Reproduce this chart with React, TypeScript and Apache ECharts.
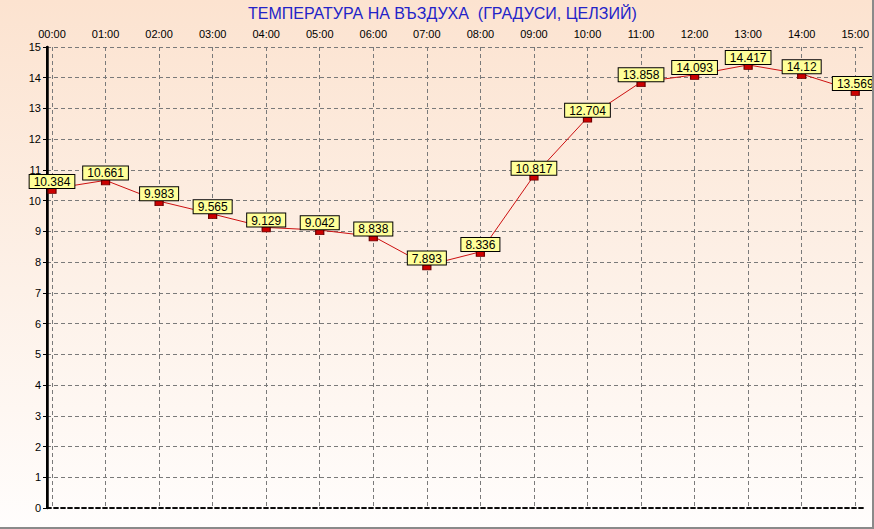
import React, { useEffect, useRef } from "react";
import * as echarts from "echarts";

const hours = ["00:00","01:00","02:00","03:00","04:00","05:00","06:00","07:00","08:00","09:00","10:00","11:00","12:00","13:00","14:00","15:00"];
const temps = [10.384, 10.661, 9.983, 9.565, 9.129, 9.042, 8.838, 7.893, 8.336, 10.817, 12.704, 13.858, 14.093, 14.417, 14.12, 13.569];
const title = "ТЕМПЕРАТУРА НА ВЪЗДУХА  (ГРАДУСИ, ЦЕЛЗИЙ)";

export default function App() {
  const ref = useRef<HTMLDivElement>(null);
  useEffect(() => {
    const chart = echarts.init(ref.current!, null, { renderer: "svg" });
    const font = "'Liberation Sans', Arial, sans-serif";
    const dash = { color: "#7a7a7a", type: [4, 3] as any, width: 1 };
    chart.setOption({
      animation: false,
      textStyle: { fontFamily: font },
      title: {
        text: title,
        left: 245,
        top: 2,
        padding: 3,
        textStyle: { color: "#2323c8", fontSize: 16, fontWeight: "normal", fontFamily: font },
      },
      grid: [
        { left: 47, right: 7, top: 47, bottom: 19, containLabel: false },
        { left: 52, right: 10, top: 47, bottom: 19, containLabel: false },
      ],
      xAxis: [
        {
          gridIndex: 0,
          type: "value",
          position: "top",
          min: 0,
          max: 1,
          axisLine: { show: true, lineStyle: { color: "#000", width: 1.5, type: [4, 3] } },
          axisTick: { show: false },
          axisLabel: { show: false },
          splitLine: { show: false },
        },
        {
          gridIndex: 0,
          type: "value",
          position: "bottom",
          min: 0,
          max: 1,
          axisLine: { show: true, lineStyle: { color: "#000", width: 1.5, type: [4, 3] } },
          axisTick: { show: false },
          axisLabel: { show: false },
          splitLine: { show: false },
        },
        {
          gridIndex: 1,
          type: "category",
          position: "top",
          data: hours,
          boundaryGap: false,
          axisLine: { show: false },
          axisTick: { show: false },
          axisLabel: { color: "#000", fontSize: 11, margin: 8, interval: 0 },
          splitLine: { show: true, lineStyle: dash },
        },
      ],
      yAxis: [
        {
          gridIndex: 0,
          type: "value",
          min: 0,
          max: 15,
          interval: 1,
          position: "left",
          axisLine: { show: true, lineStyle: { color: "#000", width: 2.5 } },
          axisTick: { show: true, length: 4, lineStyle: { color: "#000" } },
          axisLabel: { color: "#000", fontSize: 11, margin: 6 },
          splitLine: { show: true, lineStyle: dash },
        },
        {
          gridIndex: 0,
          type: "value",
          min: 0,
          max: 15,
          position: "right",
          axisLine: { show: true, lineStyle: { color: "#000", width: 2 } },
          axisTick: { show: false },
          axisLabel: { show: false },
          splitLine: { show: false },
        },
        {
          gridIndex: 1,
          type: "value",
          min: 0,
          max: 15,
          interval: 1,
          show: false,
        },
      ],
      series: [
        {
          type: "line",
          xAxisIndex: 2,
          yAxisIndex: 2,
          data: temps,
          lineStyle: { color: "#cc1010", width: 1 },
          symbol: "rect",
          symbolSize: [8, 5],
          symbolOffset: [0, 2],
          itemStyle: { color: "#cc0000", borderColor: "#700000", borderWidth: 1 },
          label: {
            show: true,
            position: "top",
            distance: 0,
            color: "#000",
            fontSize: 12,
            fontFamily: font,
            backgroundColor: "#ffff99",
            borderColor: "#000",
            borderWidth: 1,
            padding: [1, 4, 0, 4],
          },
          z: 5,
        },
      ],
    });
    return () => chart.dispose();
  }, []);
  return (
    <div
      style={{
        position: "fixed",
        left: 0,
        top: 0,
        width: 874,
        height: 529,
        boxSizing: "border-box",
        borderRight: "2px solid #8a8a8a",
        borderBottom: "2px solid #8a8a8a",
        background: "linear-gradient(to bottom, #fce3d0 0%, #fdf1e8 55%, #fffdfc 100%)",
      }}
    >
      <div ref={ref} style={{ width: 872, height: 527 }} />
    </div>
  );
}
